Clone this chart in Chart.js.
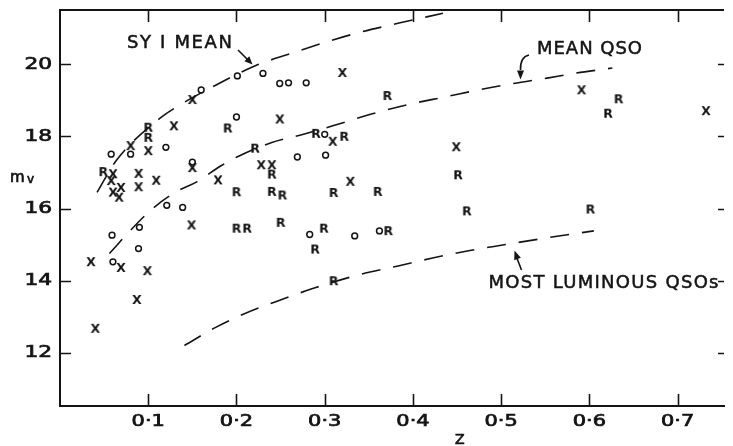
<!DOCTYPE html>
<html>
<head>
<meta charset="utf-8">
<script src="https://cdn.jsdelivr.net/npm/chart.js@4/dist/chart.umd.min.js"></script>
<style>
  html, body { margin: 0; padding: 0; background: #fff; }
  #c { display: block; }
</style>
</head>
<body>
<canvas id="c" width="733" height="446"></canvas>
<script>
// ===== m_v vs z scatter (X / R / o symbols) with three dashed reference curves =====

// symbol "X" objects  [z, m_v]
const xObjects = [
    [0.150, 19.04], [0.129, 18.31], [0.100, 17.62], [0.080, 17.76], [0.060, 16.98],
    [0.058, 16.79], [0.060, 16.47], [0.069, 16.60], [0.067, 16.33], [0.089, 16.99],
    [0.089, 16.62], [0.109, 16.80], [0.150, 17.15], [0.179, 16.81], [0.149, 15.56],
    [0.035, 14.54], [0.069, 14.38], [0.099, 14.29], [0.087, 13.49], [0.040, 12.69],
    [0.249, 18.50], [0.320, 19.79], [0.309, 17.88], [0.228, 17.23], [0.240, 17.23],
    [0.329, 16.77], [0.449, 17.73], [0.591, 19.31], [0.732, 18.73]
];

// symbol "R" objects
const rObjects = [
    [0.049, 17.04], [0.100, 18.27], [0.100, 17.99], [0.190, 18.25], [0.221, 17.69],
    [0.240, 16.97], [0.200, 16.48], [0.240, 16.49], [0.252, 16.39], [0.310, 16.46],
    [0.360, 16.49], [0.200, 15.47], [0.212, 15.47], [0.250, 15.63], [0.299, 15.47],
    [0.289, 14.89], [0.372, 15.40], [0.310, 14.01], [0.290, 18.10], [0.322, 18.02],
    [0.371, 19.15], [0.451, 16.95], [0.461, 15.95], [0.601, 16.00], [0.621, 18.66],
    [0.633, 19.06]
];

// symbol "o" objects
const oObjects = [
    [0.160, 19.29], [0.201, 19.68], [0.230, 19.75], [0.249, 19.47], [0.259, 19.49],
    [0.279, 19.49], [0.200, 18.54], [0.058, 17.51], [0.080, 17.51], [0.120, 17.70],
    [0.150, 17.29], [0.269, 17.43], [0.301, 17.48], [0.300, 18.06], [0.121, 16.09],
    [0.139, 16.03], [0.090, 15.48], [0.059, 15.26], [0.089, 14.89], [0.060, 14.52],
    [0.283, 15.28], [0.334, 15.24], [0.362, 15.38]
];

// dashed curves
const sy1Mean = [
    [0.042, 16.45], [0.064, 17.34], [0.113, 18.50], [0.137, 18.89], [0.177, 19.43],
    [0.222, 19.97], [0.260, 20.29], [0.300, 20.61], [0.338, 20.88], [0.383, 21.14],
    [0.434, 21.42]
];
const meanQso = [
    [0.056, 14.75], [0.080, 15.40], [0.105, 16.00], [0.132, 16.47], [0.155, 16.74],
    [0.182, 17.18], [0.203, 17.46], [0.240, 17.83], [0.276, 18.06], [0.315, 18.34],
    [0.354, 18.63], [0.397, 18.90], [0.437, 19.10], [0.476, 19.30], [0.514, 19.47],
    [0.552, 19.62], [0.585, 19.76], [0.626, 19.90]
];
const mostLuminous = [
    [0.141, 12.20], [0.177, 12.71], [0.209, 13.08], [0.246, 13.43], [0.289, 13.80],
    [0.340, 14.17], [0.382, 14.40], [0.421, 14.62], [0.463, 14.83], [0.505, 15.00],
    [0.550, 15.18], [0.605, 15.38]
];

const zTicks = [0.1, 0.2, 0.3, 0.4, 0.5, 0.6, 0.7];
const mTicks = [12, 14, 16, 18, 20];

const INK = '#141414';
const FONT = '"DejaVu Sans", "Liberation Sans", sans-serif';

const pts = arr => arr.map(([x, y]) => ({ x, y }));

// letter used as a point symbol
function glyph(ch) {
    const c = document.createElement('canvas');
    c.width = 16; c.height = 16;
    const g = c.getContext('2d');
    g.font = `bold 12.5px ${FONT}`;
    g.textAlign = 'center';
    g.textBaseline = 'alphabetic';
    g.fillStyle = INK;
    g.fillText(ch, 8, 12.6);
    return c;
}

function curve(data) {
    return {
        data: pts(data), showLine: true, pointRadius: 0,
        borderColor: INK, borderWidth: 1.6, borderDash: [19, 13],
        cubicInterpolationMode: 'monotone'
    };
}

// fill + thin stroke, to get the heavier pen lettering
function ink(ctx, text, x, y) {
    ctx.fillText(text, x, y);
    ctx.strokeText(text, x, y);
}

function fitText(ctx, text, left, midY, width, size) {
    ctx.font = `${size}px ${FONT}`;
    ctx.letterSpacing = '0px';
    const w = ctx.measureText(text).width;
    const sp = (width - w) / (text.length - 1);
    ctx.letterSpacing = sp + 'px';
    ctx.textAlign = 'left';
    ctx.textBaseline = 'middle';
    ink(ctx, text, left, midY);
    ctx.letterSpacing = '0px';
}

function arrowHead(ctx, x0, y0, x1, y1, len, half) {
    const a = Math.atan2(y1 - y0, x1 - x0);
    ctx.beginPath();
    ctx.moveTo(x1, y1);
    ctx.lineTo(x1 - len * Math.cos(a) + half * Math.sin(a), y1 - len * Math.sin(a) - half * Math.cos(a));
    ctx.lineTo(x1 - len * Math.cos(a) - half * Math.sin(a), y1 - len * Math.sin(a) + half * Math.cos(a));
    ctx.closePath();
    ctx.fill();
}

const frame = {
    id: 'frame',
    afterDraw(chart) {
        const { ctx, chartArea: a, scales: { x, y } } = chart;
        ctx.save();
        ctx.strokeStyle = INK;
        ctx.fillStyle = INK;

        // top border
        ctx.lineWidth = 2;
        ctx.beginPath();
        ctx.moveTo(a.left - 1, a.top);
        ctx.lineTo(a.right, a.top);
        ctx.stroke();

        // inward tick marks
        ctx.lineWidth = 1.6;
        ctx.beginPath();
        zTicks.forEach(v => {
            const px = Math.round(x.getPixelForValue(v)) + 0.5;
            ctx.moveTo(px, a.bottom); ctx.lineTo(px, a.bottom - 12);
            ctx.moveTo(px, a.top); ctx.lineTo(px, a.top + 12);
        });
        mTicks.forEach(v => {
            const py = Math.round(y.getPixelForValue(v)) + 0.5;
            ctx.moveTo(a.left, py); ctx.lineTo(a.left + 11, py);
            ctx.moveTo(a.right, py); ctx.lineTo(a.right - 6, py);
        });
        ctx.stroke();

        // tick labels (wide lettering)
        ctx.lineWidth = 0.7;
        ctx.font = `15.5px ${FONT}`;
        ctx.textBaseline = 'middle';
        mTicks.forEach(v => {
            const py = y.getPixelForValue(v);
            ctx.save();
            ctx.translate(a.left - 8, py + 0.5);
            ctx.scale(1.4, 1);
            ctx.textAlign = 'right';
            ink(ctx, String(v), 0, 0);
            ctx.restore();
        });
        zTicks.forEach(v => {
            const px = x.getPixelForValue(v);
            ctx.save();
            ctx.translate(px, a.bottom + 15.5);
            ctx.scale(1.35, 1);
            ctx.textAlign = 'center';
            ink(ctx, v.toFixed(1).replace('.', '\u00B7'), 0, 0);
            ctx.restore();
        });

        // axis titles
        ctx.textAlign = 'left';
        ctx.textBaseline = 'alphabetic';
        ctx.font = `15px ${FONT}`;
        ink(ctx, 'm', a.left - 50, 182);
        ctx.font = `12px ${FONT}`;
        ink(ctx, 'v', a.left - 33, 183);
        ctx.font = `14px ${FONT}`;
        ctx.textAlign = 'center';
        ink(ctx, 'Z', x.getPixelForValue(0.453), 444);

        // curve labels
        ctx.lineWidth = 0.5;
        fitText(ctx, 'SY I MEAN', 127, 43.5, 105, 18);
        fitText(ctx, 'MEAN QSO', 537, 49, 105, 18);
        fitText(ctx, 'MOST LUMINOUS QSOs', 488.5, 283.5, 230, 18);

        // arrows
        ctx.lineWidth = 1.6;
        ctx.beginPath();
        ctx.moveTo(238, 50); ctx.lineTo(248, 60);
        ctx.stroke();
        arrowHead(ctx, 238, 50, 252.5, 64.5, 8, 3.5);

        ctx.beginPath();
        ctx.moveTo(529, 55);
        ctx.quadraticCurveTo(520, 57, 520.5, 70);
        ctx.stroke();
        arrowHead(ctx, 520.5, 66, 520.5, 79.5, 9, 3.5);

        ctx.beginPath();
        ctx.moveTo(521.5, 270); ctx.lineTo(516.5, 257);
        ctx.stroke();
        arrowHead(ctx, 521.5, 270, 514.5, 250.5, 9, 3.5);

        ctx.restore();
    }
};

new Chart(document.getElementById('c'), {
    type: 'scatter',
    data: {
        datasets: [
            curve(sy1Mean),
            curve(meanQso),
            curve(mostLuminous),
            { data: pts(xObjects), pointStyle: glyph('X'), pointRadius: 8 },
            { data: pts(rObjects), pointStyle: glyph('R'), pointRadius: 8 },
            { data: pts(oObjects), pointStyle: 'circle', pointRadius: 2.9, borderWidth: 1.5,
              borderColor: INK, backgroundColor: 'rgba(0,0,0,0)' }
        ]
    },
    options: {
        responsive: false,
        animation: false,
        devicePixelRatio: 1,
        layout: { padding: { top: 10, right: 0, left: 0, bottom: 0 } },
        plugins: { legend: { display: false }, tooltip: { enabled: false } },
        scales: {
            x: {
                type: 'linear', min: 0, max: 0.7525,
                ticks: { display: false },
                grid: { display: false },
                border: { display: true, width: 2, color: INK },
                afterFit: s => { s.height = 40; }
            },
            y: {
                type: 'linear', min: 10.52, max: 21.51,
                ticks: { display: false },
                grid: { display: false },
                border: { display: true, width: 2, color: INK },
                afterFit: s => { s.width = 60; }
            }
        }
    },
    plugins: [frame]
});
</script>
</body>
</html>
